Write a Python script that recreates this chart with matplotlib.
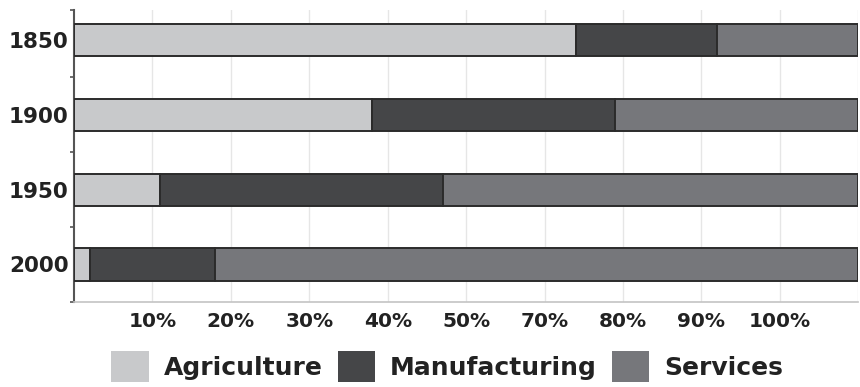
import numpy as np
import matplotlib
matplotlib.use("Agg")
import matplotlib.pyplot as plt
from matplotlib.patches import Patch

# data (share of employment, %)
years = ["1850", "1900", "1950", "2000"]
agriculture = [64, 38, 11, 2]
manufacturing = [18, 31, 36, 16]
services = [18, 31, 53, 82]
sectors = ["Agriculture", "Manufacturing", "Services"]
colors = ["#c8c9cb", "#454648", "#76777b"]
tick_pos = [10, 20, 30, 40, 50, 60, 70, 80, 90]
tick_labels = ["10%", "20%", "30%", "40%", "50%", "70%", "80%", "90%", "100%"]

fig = plt.figure(figsize=(8.6, 3.87), dpi=100)
ax = fig.add_axes([0.086, 0.22, 0.912, 0.754])

y = np.arange(len(years))
left = np.zeros(len(years))
for vals, c in zip([agriculture, manufacturing, services], colors):
    ax.barh(y, vals, left=left, height=0.43, color=c, edgecolor="#2b2b2b",
            linewidth=1.4, zorder=3)
    left += np.array(vals)

ax.set_xlim(0, 100)
ax.set_ylim(3.5, -0.4)

# grid
for gx in range(10, 101, 10):
    ax.axvline(gx, color="#e6e6e6", lw=1, zorder=0)

ax.set_xticks(tick_pos)
ax.set_xticklabels(tick_labels, fontsize=14.5, fontweight="bold", color="#222222")
ax.tick_params(axis="x", length=0, pad=7)

ax.set_yticks(y)
ax.set_yticklabels(years, fontsize=15.5, fontweight="bold", color="#222222")
ax.set_yticks([-0.4, 0.5, 1.5, 2.5, 3.5], minor=True)
ax.tick_params(axis="y", which="major", length=0, pad=4)
ax.tick_params(axis="y", which="minor", length=3, width=1.2, color="#555555")

for s in ["top", "right"]:
    ax.spines[s].set_visible(False)
ax.spines["left"].set_color("#555555")
ax.spines["left"].set_linewidth(1.5)
ax.spines["bottom"].set_color("#c4c4c4")
ax.spines["bottom"].set_linewidth(1.2)

handles = [Patch(facecolor=c, edgecolor="none") for c in colors]
fig.legend(handles, sectors, loc="lower center", bbox_to_anchor=(0.52, -0.045),
           ncol=3, frameon=False, handlelength=1.5, handleheight=1.5,
           columnspacing=0.6, handletextpad=0.6,
           prop={"family": ["DejaVu Sans"], "weight": "bold", "size": 18})
for t in fig.legends[0].get_texts():
    t.set_color("#222222")

fig.savefig("out.png", dpi=100)
